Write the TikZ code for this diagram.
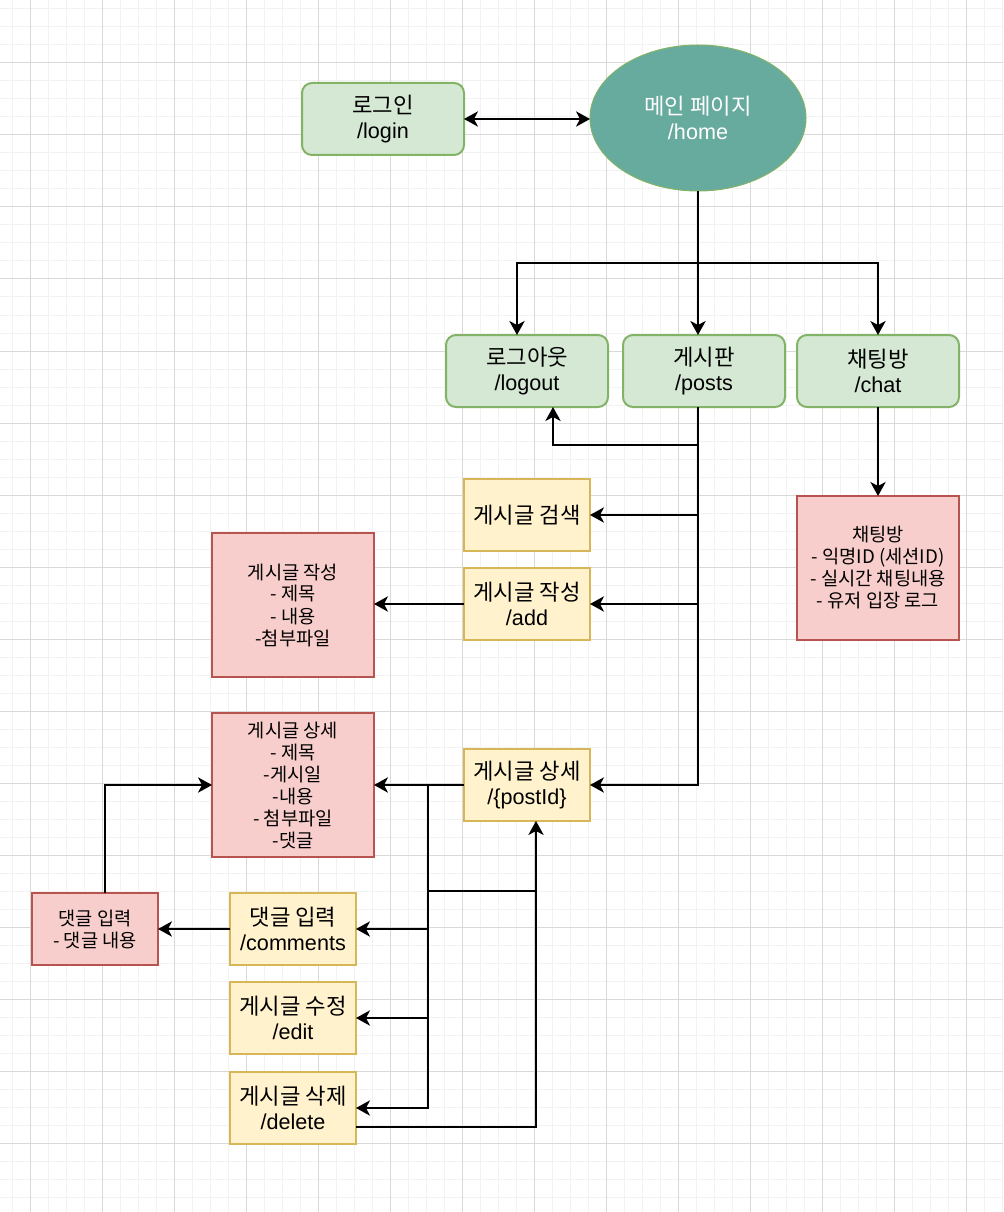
\documentclass[tikz,border=0pt]{standalone}
\usepackage{fontspec}
\setmainfont{Liberation Sans}
\newfontfamily\kr{Noto Sans CJK KR}[Scale=1.03]
\usetikzlibrary{arrows.meta,shapes.geometric}

\definecolor{gridminor}{HTML}{F2F2F2}
\definecolor{gridmajor}{HTML}{D9D9D9}
\definecolor{greenfill}{HTML}{D5E8D4}
\definecolor{greenline}{HTML}{82B366}
\definecolor{yellowfill}{HTML}{FFF2CC}
\definecolor{yellowline}{HTML}{D6B656}
\definecolor{redfill}{HTML}{F8CECC}
\definecolor{redline}{HTML}{B85450}
\definecolor{tealfill}{HTML}{67AB9F}

\tikzset{
  base/.style={draw, line width=1.5pt, inner sep=0pt, outer sep=0pt, align=center,
    font=\fontsize{16.2pt}{18.75pt}\selectfont},
  routebox/.style={base, rounded corners=7.5pt, fill=greenfill, draw=greenline,
    minimum width=121.5pt, minimum height=54pt},
  pagebox/.style={base, fill=yellowfill, draw=yellowline,
    minimum width=94.5pt, minimum height=54pt},
  databox/.style={base, fill=redfill, draw=redline,
    minimum width=121.5pt, minimum height=108pt,
    font=\kr\fontsize{13.6pt}{16.5pt}\selectfont},
  smalldata/.style={databox, minimum width=94.5pt, minimum height=54pt},
  homenode/.style={ellipse, draw=greenline, line width=0.75pt, fill=tealfill,
    minimum width=162pt, minimum height=109.5pt, inner sep=0pt, outer sep=0pt,
    align=center, text=white, font=\fontsize{16.2pt}{18.75pt}\selectfont},
  link/.style={draw=black, line width=1.5pt},
  tip/.tip={Stealth[length=10.5pt, width=11.5pt, inset=3pt]},
  arr/.style={link, -tip},
  biarr/.style={link, tip-tip},
}

\begin{document}
\begin{tikzpicture}[x=0.75pt, y=-0.75pt]
  % canvas and background grid
  \fill[white] (0,0) rectangle (1003,1212);
  \useasboundingbox (0,0) rectangle (1003,1212);
  \foreach \gx in {12,30,...,1002} \draw[gridminor, line width=0.75pt] (\gx,0) -- (\gx,1212);
  \foreach \gy in {9,27,...,1211} \draw[gridminor, line width=0.75pt] (0,\gy) -- (1003,\gy);
  \foreach \gx in {30,102,...,1002} \draw[gridmajor, line width=0.75pt] (\gx,0) -- (\gx,1212);
  \foreach \gy in {63,135,...,1211} \draw[gridmajor, line width=0.75pt] (0,\gy) -- (1003,\gy);

  % top level
  \node[routebox] (login) at (383,119) {{\kr 로그인}\\/login};
  \node[homenode] (home) at (698,118) {{\kr 메인 페이지}\\/home};

  % second level routes
  \node[routebox] (logout) at (527,371) {{\kr 로그아웃}\\/logout};
  \node[routebox] (posts) at (704,371) {{\kr 게시판}\\/posts};
  \node[routebox] (chat) at (878,371) {{\kr 채팅방}\\/chat};

  % board pages
  \node[pagebox] (search) at (527,515) {{\kr 게시글 검색}};
  \node[pagebox] (add) at (527,604) {{\kr 게시글 작성}\\/add};
  \node[pagebox] (detail) at (527,785) {{\kr 게시글 상세}\\/\{postId\}};
  \node[pagebox] (comments) at (293,929) {{\kr 댓글 입력}\\/comments};
  \node[pagebox] (edit) at (293,1018) {{\kr 게시글 수정}\\/edit};
  \node[pagebox] (delete) at (293,1108) {{\kr 게시글 삭제}\\/delete};

  % data boxes
  \node[databox] (writedata) at (293,605) {게시글 작성\\- 제목\\- 내용\\-첨부파일};
  \node[databox] (detaildata) at (293,785) {게시글 상세\\- 제목\\-게시일\\-내용\\- 첨부파일\\-댓글};
  \node[databox] (chatdata) at (878,568) {채팅방\\- 익명ID (세션ID)\\- 실시간 채팅내용\\- 유저 입장 로그};
  \node[smalldata] (commentdata) at (95,929) {댓글 입력\\- 댓글 내용};

  % junction points
  \coordinate (hj) at (698,263);
  \coordinate (pj) at (698,445);
  \coordinate (dj) at (428,785);
  \coordinate (cj) at (428,891);
  \coordinate (uj) at (536,891);

  % connectors
  \draw[biarr] (login.east) -- (home.west |- login.east);
  \draw[link] (home.south) -- (hj);
  \draw[arr] (hj) -| ([xshift=-7.5pt]logout.north);
  \draw[arr] (hj) -- ([xshift=-4.5pt]posts.north);
  \draw[arr] (hj) -| (chat.north);

  \draw[link] ([xshift=-4.5pt]posts.south) -- (pj);
  \draw[arr] (pj) -| ([xshift=19.5pt]logout.south);
  \draw[arr] (pj) |- (search.east);
  \draw[arr] (pj) |- (add.east);
  \draw[arr] (pj) |- (detail.east);

  \draw[arr] (chat.south) -- (chatdata.north);
  \draw[arr] (add.west) -- (writedata.east |- add.west);
  \draw[arr] (detail.west) -- (detaildata.east);

  \draw[arr] (dj) |- (comments.east);
  \draw[arr] (dj) |- (edit.east);
  \draw[arr] (dj) |- (delete.east);
  \draw[link] (cj) -- (uj);
  \draw[arr] ([yshift=-14.25pt]delete.east) -| ([xshift=6.75pt]detail.south);

  \draw[arr] (comments.west) -- (commentdata.east);
  \draw[arr] ([xshift=7.5pt]commentdata.north) |- (detaildata.west);
\end{tikzpicture}
\end{document}
